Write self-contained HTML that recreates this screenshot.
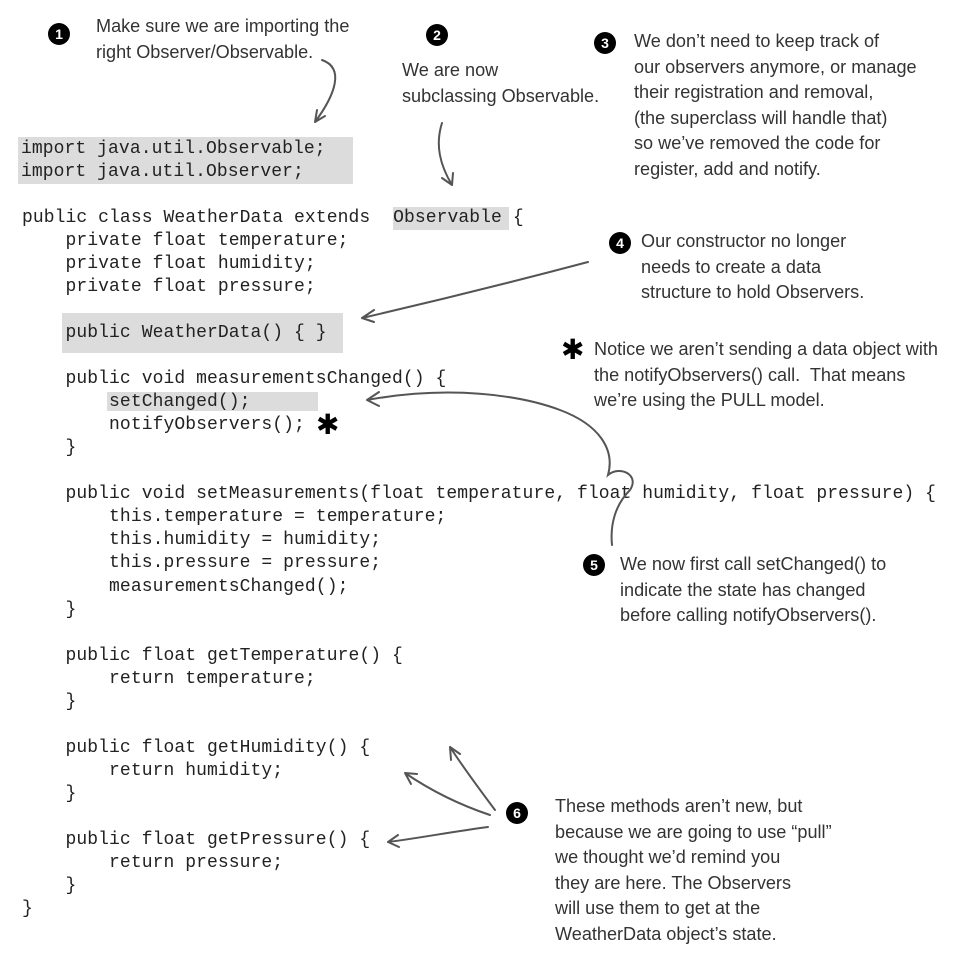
<!DOCTYPE html>
<html><head><meta charset="utf-8"><style>
body{margin:0;width:973px;height:956px;background:#fff;position:relative;overflow:hidden}
.c{position:absolute;font-family:"Liberation Mono",monospace;font-size:18px;letter-spacing:0.08px;color:#222;white-space:pre;line-height:23.03px}
.g{position:absolute;background:#dcdcdc}
.h{position:absolute;font-family:"Liberation Sans Narrow","Liberation Sans",sans-serif;font-size:18.1px;color:#333;line-height:25.5px;white-space:pre}
.n{position:absolute;width:22px;height:22px;border-radius:50%;background:#000;color:#fff;font:bold 14px "Liberation Sans",sans-serif;text-align:center;line-height:22px}
</style></head><body>
<div class="g" style="left:18px;top:137px;width:335px;height:47px"></div>
<div class="g" style="left:393px;top:207px;width:116px;height:23px"></div>
<div class="g" style="left:62px;top:313px;width:281px;height:40px"></div>
<div class="g" style="left:107px;top:392px;width:211px;height:19px"></div>
<div class="c" style="left:21px;top:138px">import java.util.Observable;
import java.util.Observer;</div>
<div class="c" style="left:22px;top:207px">public class WeatherData extends <span style="margin-left:12px">Observable</span> {
    private float temperature;
    private float humidity;
    private float pressure;

    public WeatherData() { }

    public void measurementsChanged() {
        setChanged();
        notifyObservers();
    }

    public void setMeasurements(float temperature, float humidity, float pressure) {
        this.temperature = temperature;
        this.humidity = humidity;
        this.pressure = pressure;
        measurementsChanged();
    }

    public float getTemperature() {
        return temperature;
    }

    public float getHumidity() {
        return humidity;
    }

    public float getPressure() {
        return pressure;
    }
}</div>
<div style="position:absolute;left:316px;top:411px;font:bold 28px 'DejaVu Sans',sans-serif;line-height:28px">✱</div>
<div style="position:absolute;left:561px;top:336px;font:bold 28px 'DejaVu Sans',sans-serif;line-height:28px">✱</div>
<div class="n" style="left:48px;top:23px">1</div>
<div class="n" style="left:426px;top:24px">2</div>
<div class="n" style="left:594px;top:32px">3</div>
<div class="n" style="left:609px;top:232px">4</div>
<div class="n" style="left:583px;top:554px">5</div>
<div class="n" style="left:506px;top:802px">6</div>
<div class="h" style="left:96px;top:14px">Make sure we are importing the
right Observer/Observable.</div>
<div class="h" style="left:402px;top:58px">We are now
subclassing Observable.</div>
<div class="h" style="left:634px;top:29px">We don’t need to keep track of
our observers anymore, or manage
their registration and removal,
(the superclass will handle that)
so we’ve removed the code for
register, add and notify.</div>
<div class="h" style="left:641px;top:229px">Our constructor no longer
needs to create a data
structure to hold Observers.</div>
<div class="h" style="left:594px;top:337px">Notice we aren’t sending a data object with
the notifyObservers() call.  That means
we’re using the PULL model.</div>
<div class="h" style="left:620px;top:552px">We now first call setChanged() to
indicate the state has changed
before calling notifyObservers().</div>
<div class="h" style="left:555px;top:794px">These methods aren’t new, but
because we are going to use “pull”
we thought we’d remind you
they are here. The Observers
will use them to get at the
WeatherData object’s state.</div>
<svg width="973" height="956" style="position:absolute;left:0;top:0" fill="none" stroke="#555" stroke-width="2" stroke-linecap="round">
<path d="M322 60 C345 68 335 95 315 122 M315 122 l2 -12 M315 122 l10 -6"/>
<path d="M442 123 C435 145 440 165 452 185 M452 185 l-10 -7 M452 185 l1 -12"/>
<path d="M588 262 C520 280 440 300 362 318 M362 318 l12 -8 M362 318 l12 4"/>
<path d="M367 400 C450 385 520 395 560 410 C600 425 615 450 608 475 C620 465 640 475 630 490 C615 505 610 525 612 545 M367 400 l12 -8 M367 400 l12 6"/>
<path d="M495 810 C480 790 465 770 450 747 M450 747 l1 13 M450 747 l10 7"/>
<path d="M490 815 C460 805 430 790 405 773 M405 773 l6 11 M405 773 l12 1"/>
<path d="M488 827 C450 832 420 838 388 842 M388 842 l10 -7 M388 842 l11 5"/>
</svg>
</body></html>
